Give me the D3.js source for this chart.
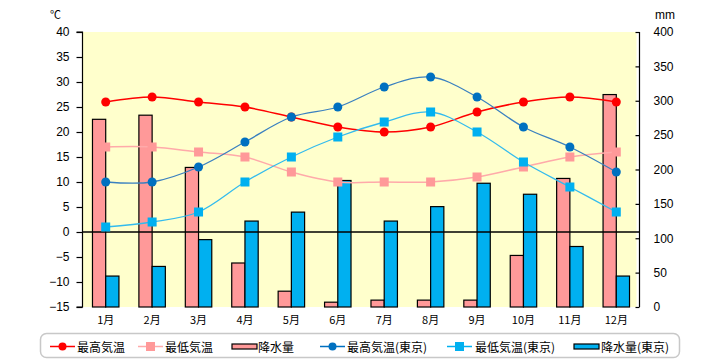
<!DOCTYPE html>
<html><head><meta charset="utf-8">
<script src="https://cdn.jsdelivr.net/npm/d3@7"></script>
<style>body{margin:0;background:#fff;} svg{display:block;font-family:"Noto Sans CJK JP","Noto Sans",sans-serif;}</style>
</head><body>
<svg id="c" width="720" height="360"></svg>
<script>
const months = ["1月","2月","3月","4月","5月","6月","7月","8月","9月","10月","11月","12月"];
const maxTemp = [26,27,26,25,23,21,20,21,24,26,27,26];
const minTemp = [17,17,16,15,12,10,10,10,11,13,15,16];
const precip = [273,279,203,64,23,7,10,10,10,75,187,309];
const maxTempTokyo = [10,10,13,18,23,25,29,31,27,21,17,12];
const minTempTokyo = [1,2,4,10,15,19,22,24,20,14,9,4];
const precipTokyo = [45,59,98,125,138,184,125,146,180,164,88,45];
const leftTicks = [-15,-10,-5,0,5,10,15,20,25,30,35,40];
const rightTicks = [0,50,100,150,200,250,300,350,400];
const legendLabels = ["最高気温","最低気温","降水量","最高気温(東京)","最低気温(東京)","降水量(東京)"];

const svg = d3.select("#c");
const L = 82.5, R = 639.5, T = 32, B = 307;
const x = d3.scaleBand().domain(months).range([L, R]);
const yL = d3.scaleLinear().domain([-15, 40]).range([B, T]);
const yR = d3.scaleLinear().domain([0, 400]).range([B, T]);

svg.append("rect").attr("x", L).attr("y", T).attr("width", R - L - 3).attr("height", B - T).attr("fill", "#FFFFCC");

const cx = d => x(d) + x.bandwidth() / 2;
const bw = x.bandwidth() * 0.285;

// bars
svg.append("g").selectAll("rect").data(months).join("rect")
  .attr("x", d => cx(d) - bw).attr("width", bw)
  .attr("y", (d, i) => yR(precip[i])).attr("height", (d, i) => yR(0) - yR(precip[i]))
  .attr("fill", "#FF9999").attr("stroke", "#000").attr("stroke-width", 1.2);
svg.append("g").selectAll("rect").data(months).join("rect")
  .attr("x", d => cx(d)).attr("width", bw)
  .attr("y", (d, i) => yR(precipTokyo[i])).attr("height", (d, i) => yR(0) - yR(precipTokyo[i]))
  .attr("fill", "#00B0F0").attr("stroke", "#000").attr("stroke-width", 1.2);

// zero line
svg.append("line").attr("x1", L).attr("x2", R).attr("y1", yL(0)).attr("y2", yL(0)).attr("stroke", "#000").attr("stroke-width", 1.3);

// axes
const gl = svg.append("g").attr("transform", `translate(${L},0)`)
  .call(d3.axisLeft(yL).tickValues(leftTicks).tickSize(6).tickPadding(7).tickFormat(d => d < 0 ? "−" + Math.abs(d) : d));
const gr = svg.append("g").attr("transform", `translate(${R},0)`)
  .call(d3.axisRight(yR).tickValues(rightTicks).tickSize(-4).tickPadding(14));
[gl, gr].forEach(g => {
  g.select(".domain").attr("stroke", "#000").attr("stroke-width", 1.2);
  g.selectAll(".tick line").attr("stroke", "#000").attr("stroke-width", 1.2);
  g.selectAll("text").attr("font-size", 12).attr("fill", "#000").attr("font-family", "Liberation Sans, sans-serif");
});
gr.select(".domain").attr("d", `M0,${T}V${B}`);
gl.select(".domain").attr("d", `M-6,${T}H0V${B}H-6`);

// x labels
svg.append("g").selectAll("text").data(months).join("text")
  .attr("x", d => cx(d)).attr("y", 324).attr("text-anchor", "middle")
  .attr("font-size", 11).attr("fill", "#000").text(d => d);

svg.append("text").attr("x", 50).attr("y", 19).attr("font-size", 11).text("℃");
svg.append("text").attr("x", 655).attr("y", 19).attr("font-size", 12).attr("font-family", "Liberation Sans, sans-serif").text("mm");

// lines
const curve = d3.curveCatmullRom.alpha(0.5);
function series(vals, color, width, marker, mcolor) {
  const line = d3.line().x((d, i) => cx(months[i])).y(d => yL(d)).curve(curve);
  svg.append("path").datum(vals).attr("d", line).attr("fill", "none").attr("stroke", color).attr("stroke-width", width);
  const g = svg.append("g");
  if (marker === "circle") {
    g.selectAll("circle").data(vals).join("circle")
      .attr("cx", (d, i) => cx(months[i])).attr("cy", d => yL(d)).attr("r", 4.5).attr("fill", mcolor);
  } else {
    g.selectAll("rect").data(vals).join("rect")
      .attr("x", (d, i) => cx(months[i]) - 4.5).attr("y", d => yL(d) - 4.5).attr("width", 9).attr("height", 9).attr("fill", mcolor);
  }
}
series(minTemp, "#FFAAAA", 1.5, "square", "#FF9999");
series(maxTemp, "#FF0000", 1.5, "circle", "#FF0000");
series(minTempTokyo, "#33BBEE", 1.3, "square", "#00B0F0");
series(maxTempTokyo, "#3A80C0", 1.3, "circle", "#0070C0");

// legend
svg.append("rect").attr("x", 40.5).attr("y", 333.5).attr("width", 639).attr("height", 24).attr("rx", 6)
  .attr("fill", "#fff").attr("stroke", "#C8C8C8").attr("stroke-width", 1.5);
const legend = [
  {x: 50, tx: 77, type: "line", color: "#FF0000", m: "circle", mc: "#FF0000"},
  {x: 138, tx: 165, type: "line", color: "#FFAAAA", m: "square", mc: "#FF9999"},
  {x: 232, tx: 258, type: "bar", color: "#FF9999"},
  {x: 320, tx: 347, type: "line", color: "#0070C0", m: "circle", mc: "#0070C0"},
  {x: 447, tx: 475, type: "line", color: "#00B0F0", m: "square", mc: "#00B0F0"},
  {x: 574, tx: 601, type: "bar", color: "#00B0F0"}
];
const ly = 346.5;
legend.forEach((it, i) => {
  if (it.type === "line") {
    svg.append("line").attr("x1", it.x).attr("x2", it.x + 25).attr("y1", ly).attr("y2", ly).attr("stroke", it.color).attr("stroke-width", 1.5);
    if (it.m === "circle") svg.append("circle").attr("cx", it.x + 12.5).attr("cy", ly).attr("r", 4).attr("fill", it.mc);
    else svg.append("rect").attr("x", it.x + 8).attr("y", ly - 4.5).attr("width", 9).attr("height", 9).attr("fill", it.mc);
  } else {
    svg.append("rect").attr("x", it.x).attr("y", ly - 2.5).attr("width", 25).attr("height", 5).attr("fill", it.color).attr("stroke", "#000").attr("stroke-width", 1.2);
  }
  svg.append("text").attr("x", it.tx).attr("y", ly + 5.5).attr("font-size", 12).attr("fill", "#000").text(legendLabels[i]);
});
</script>
</body></html>
